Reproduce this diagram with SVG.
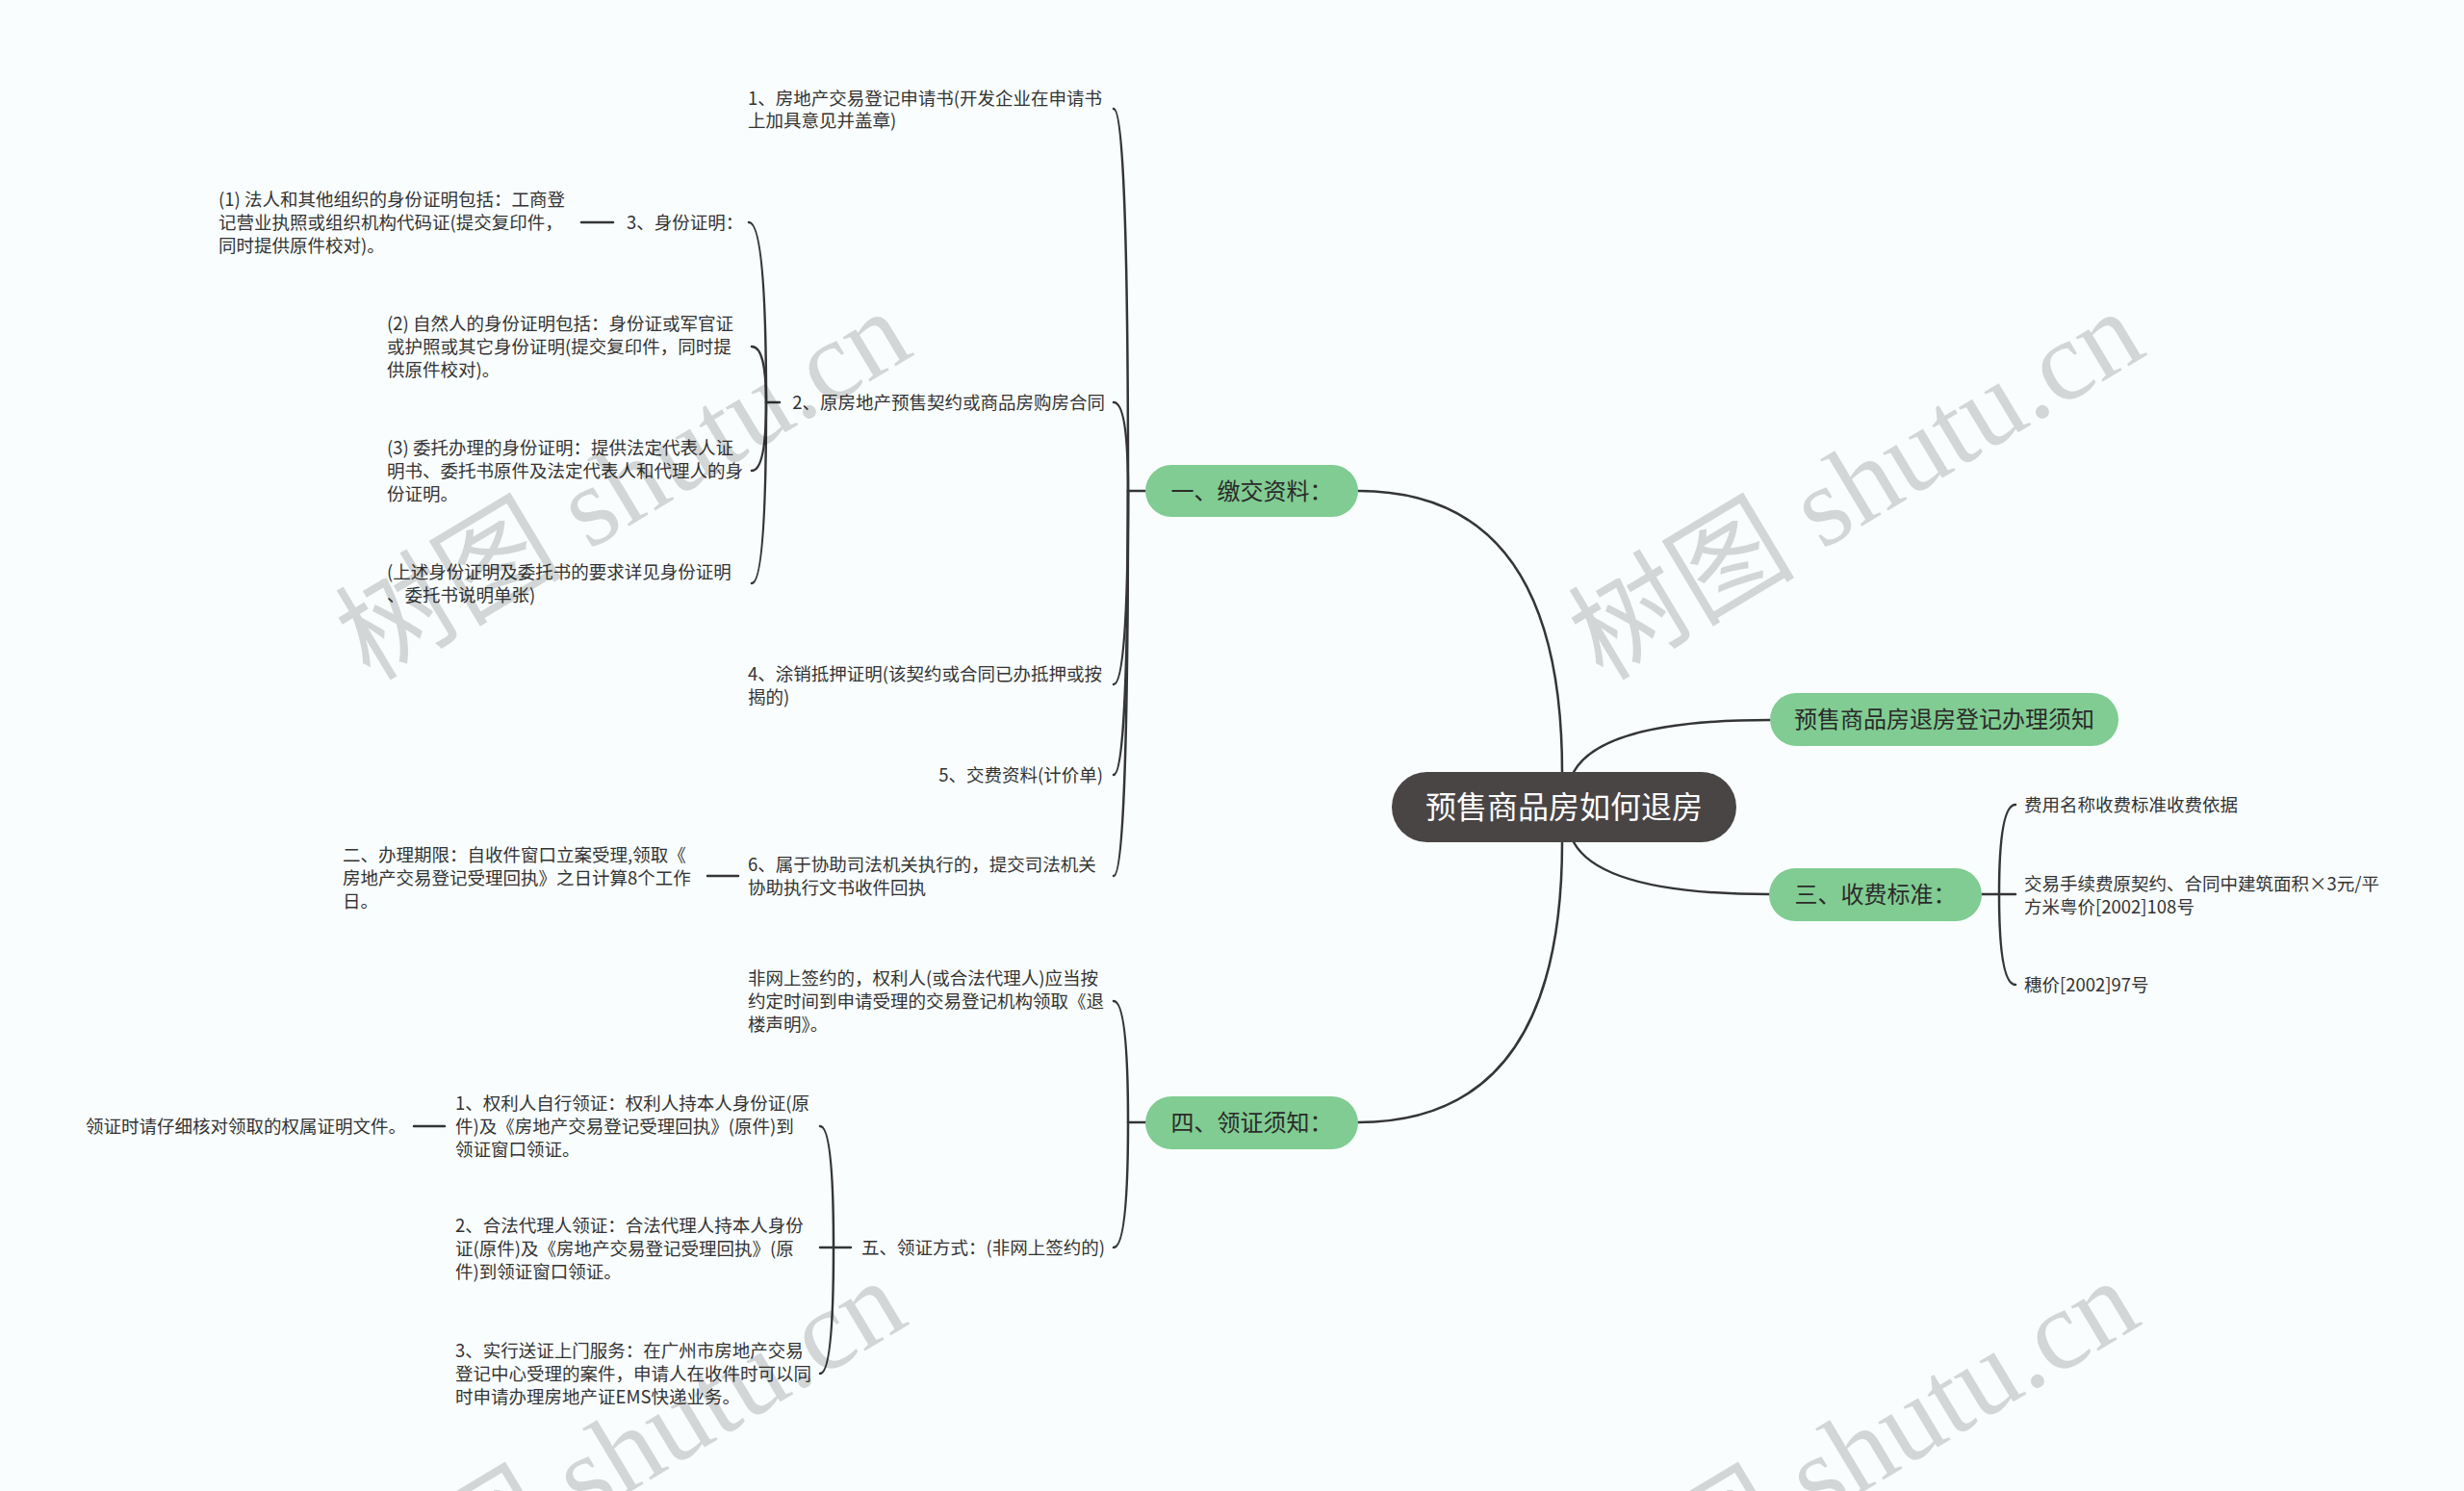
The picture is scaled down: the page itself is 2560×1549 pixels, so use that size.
<svg xmlns="http://www.w3.org/2000/svg" width="2560" height="1549" viewBox="0 0 2560 1549">
<style>
.t{font-family:"Noto Sans CJK SC","Noto Sans",sans-serif;font-size:18.5px;fill:#333}
.e{text-anchor:end}
.g{fill:#80cc92}
.gt{font-family:"Noto Sans CJK SC","Noto Sans",sans-serif;font-size:24px;fill:#2b2b2b;text-anchor:middle}
.c{fill:none;stroke:#353535;stroke-width:2.5;stroke-linecap:round}
.wm{font-family:"Liberation Serif","Noto Sans CJK SC",serif;font-size:118px;fill:#000;opacity:0.15;text-anchor:middle}
</style>
<rect width="2560" height="1549" fill="#f9fdfd"/>
<g id="connectors" class="c">
<path d="M1623,802 Q1623,510 1411,510"/>
<path d="M1623,875 Q1623,1166 1411,1166"/>
<path d="M1635,802 Q1665,748 1839,748"/>
<path d="M1635,875 Q1665,929 1838,929"/>
<path d="M1172,510 H1190"/>
<path d="M1172,510 Q1172,113 1157,113"/>
<path d="M1172,510 Q1172,418 1157,418"/>
<path d="M1172,510 Q1172,711 1157,711"/>
<path d="M1172,510 Q1172,805 1157,805"/>
<path d="M1172,510 Q1172,910 1157,910"/>
<path d="M796,418 H810"/>
<path d="M796,418 Q796,231 778,231"/>
<path d="M796,418 Q796,360 781,360"/>
<path d="M796,418 Q796,489 781,489"/>
<path d="M796,418 Q796,606 781,606"/>
<path d="M637,231 H604"/>
<path d="M767,910 H735"/>
<path d="M1172,1166 H1190"/>
<path d="M1172,1166 Q1172,1040 1157,1040"/>
<path d="M1172,1166 Q1172,1296 1157,1296"/>
<path d="M866,1296 H884"/>
<path d="M866,1296 Q866,1170 852,1170"/>
<path d="M866,1296 H852"/>
<path d="M866,1296 Q866,1427 852,1427"/>
<path d="M462,1170 H430"/>
<path d="M2059,929 H2094"/>
<path d="M2077,929 Q2077,836 2094,836"/>
<path d="M2077,929 Q2077,1023 2094,1023"/>
</g>
<g id="root">
<rect x="1446" y="802" width="358" height="73" rx="36.5" fill="#4a4545"/>
<text x="1625" y="850" text-anchor="middle" font-family="Noto Sans CJK SC, Noto Sans, sans-serif" font-size="32" fill="#fff">预售商品房如何退房</text>
</g>
<g id="n1">
<rect class="g" x="1190" y="483" width="221" height="54" rx="27"/>
<text class="gt" x="1300.5" y="518.5">一、缴交资料：</text>
</g>
<g id="n4">
<rect class="g" x="1190" y="1139" width="221" height="55" rx="27.5"/>
<text class="gt" x="1300.5" y="1175">四、领证须知：</text>
</g>
<g id="nA">
<rect class="g" x="1839" y="720" width="362" height="55" rx="27.5"/>
<text class="gt" x="2020" y="756">预售商品房退房登记办理须知</text>
</g>
<g id="n3">
<rect class="g" x="1838" y="902" width="221" height="55" rx="27.5"/>
<text class="gt" x="1948.5" y="938">三、收费标准：</text>
</g>
<g id="c1"><text class="t" x="777"><tspan x="777" y="108.5">1、房地产交易登记申请书(开发企业在申请书</tspan><tspan x="777" y="131.5">上加具意见并盖章)</tspan></text></g>
<g id="c2"><text class="t e" x="1148" y="424.5">2、原房地产预售契约或商品房购房合同</text></g>
<g id="c2a"><text class="t" x="651" y="237.5">3、身份证明：</text></g>
<g id="c2a1"><text class="t"><tspan x="227" y="213.5">(1) 法人和其他组织的身份证明包括：工商登</tspan><tspan x="227" y="237.5">记营业执照或组织机构代码证(提交复印件，</tspan><tspan x="227" y="261.5">同时提供原件校对)。</tspan></text></g>
<g id="c2b"><text class="t"><tspan x="402" y="342.5">(2) 自然人的身份证明包括：身份证或军官证</tspan><tspan x="402" y="366.5">或护照或其它身份证明(提交复印件，同时提</tspan><tspan x="402" y="390.5">供原件校对)。</tspan></text></g>
<g id="c2c"><text class="t"><tspan x="402" y="471.5">(3) 委托办理的身份证明：提供法定代表人证</tspan><tspan x="402" y="495.5">明书、委托书原件及法定代表人和代理人的身</tspan><tspan x="402" y="519.5">份证明。</tspan></text></g>
<g id="c2d"><text class="t"><tspan x="402" y="600.5">(上述身份证明及委托书的要求详见身份证明</tspan><tspan x="402" y="624.5">、委托书说明单张)</tspan></text></g>
<g id="c4"><text class="t"><tspan x="777" y="706.5">4、涂销抵押证明(该契约或合同已办抵押或按</tspan><tspan x="777" y="730.5">揭的)</tspan></text></g>
<g id="c5"><text class="t e" x="1146" y="811.5">5、交费资料(计价单)</text></g>
<g id="c6"><text class="t"><tspan x="777" y="904.5">6、属于协助司法机关执行的，提交司法机关</tspan><tspan x="777" y="928.5">协助执行文书收件回执</tspan></text></g>
<g id="c6a"><text class="t"><tspan x="356" y="894.5">二、办理期限：自收件窗口立案受理,领取《</tspan><tspan x="356" y="918.5">房地产交易登记受理回执》之日计算8个工作</tspan><tspan x="356" y="942.5">日。</tspan></text></g>
<g id="d1"><text class="t"><tspan x="777" y="1022.5">非网上签约的，权利人(或合法代理人)应当按</tspan><tspan x="777" y="1046.5">约定时间到申请受理的交易登记机构领取《退</tspan><tspan x="777" y="1070.5">楼声明》。</tspan></text></g>
<g id="d2"><text class="t e" x="1148" y="1302.5">五、领证方式：(非网上签约的)</text></g>
<g id="d2a"><text class="t"><tspan x="473" y="1152.5">1、权利人自行领证：权利人持本人身份证(原</tspan><tspan x="473" y="1176.5">件)及《房地产交易登记受理回执》(原件)到</tspan><tspan x="473" y="1200.5">领证窗口领证。</tspan></text></g>
<g id="d2a1"><text class="t" x="89" y="1176.5">领证时请仔细核对领取的权属证明文件。</text></g>
<g id="d2b"><text class="t"><tspan x="473" y="1279.5">2、合法代理人领证：合法代理人持本人身份</tspan><tspan x="473" y="1303.5">证(原件)及《房地产交易登记受理回执》(原</tspan><tspan x="473" y="1327.5">件)到领证窗口领证。</tspan></text></g>
<g id="d2c"><text class="t"><tspan x="473" y="1409.5">3、实行送证上门服务：在广州市房地产交易</tspan><tspan x="473" y="1433.5">登记中心受理的案件，申请人在收件时可以同</tspan><tspan x="473" y="1457.5">时申请办理房地产证EMS快递业务。</tspan></text></g>
<g id="f1"><text class="t" x="2103" y="842.5">费用名称收费标准收费依据</text></g>
<g id="f2"><text class="t"><tspan x="2103" y="924.5">交易手续费原契约、合同中建筑面积×3元/平</tspan><tspan x="2103" y="948.5">方米粤价[2002]108号</tspan></text></g>
<g id="f3"><text class="t" x="2103" y="1029.5">穗价[2002]97号</text></g>
<g id="watermark">
<text class="wm" transform="translate(668,538) rotate(-31)">树图 shutu.cn</text>
<text class="wm" transform="translate(1949,538) rotate(-31)">树图 shutu.cn</text>
<text class="wm" transform="translate(663,1545) rotate(-31)">树图 shutu.cn</text>
<text class="wm" transform="translate(1944,1545) rotate(-31)">树图 shutu.cn</text>
</g>
</svg>
